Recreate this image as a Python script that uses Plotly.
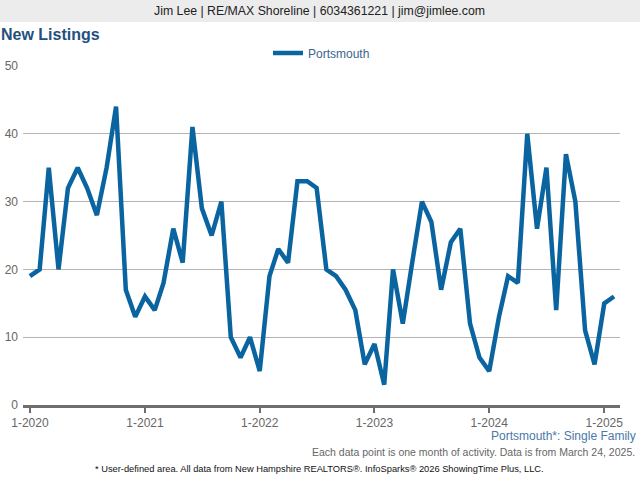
import plotly.graph_objects as go

months = [f"{y}-{m:02d}-01" for y in range(2020, 2026) for m in range(1, 13)][:62]
new_listings = [
    19, 20, 35, 20, 32, 35, 32, 28, 35, 44, 17, 13,   # 2020
    16, 14, 18, 26, 21, 41, 29, 25, 30, 10, 7, 10,    # 2021
    5, 19, 23, 21, 33, 33, 32, 20, 19, 17, 14, 6,     # 2022
    9, 3, 20, 12, 21, 30, 27, 17, 24, 26, 12, 7,      # 2023
    5, 13, 19, 18, 40, 26, 35, 14, 37, 30, 11, 6,     # 2024
    15, 16,                                           # 2025
]
tick_vals = ["2020-01-01", "2021-01-01", "2022-01-01", "2023-01-01", "2024-01-01", "2025-01-01"]
tick_text = ["1-2020", "1-2021", "1-2022", "1-2023", "1-2024", "1-2025"]
y_ticks = [0, 10, 20, 30, 40, 50]

W, H = 640, 480
L, R, T, B = 23, 20, 66, 75
pw, ph = W - L - R, H - T - B

def px(x):
    return (x - L) / pw

def py(y_from_top):
    return (H - y_from_top - B) / ph

FONT = "Liberation Sans, Arial, sans-serif"
LINE = "#0a64a0"

fig = go.Figure()
fig.add_trace(go.Scatter(
    x=months, y=new_listings, mode="lines", name="Portsmouth",
    line=dict(color=LINE, width=4.5), hoverinfo="x+y",
))

fig.update_layout(
    width=W, height=H,
    margin=dict(l=L, r=R, t=T, b=B, pad=0, autoexpand=False),
    paper_bgcolor="white", plot_bgcolor="white",
    font=dict(family=FONT, size=12, color="#666666"),
    showlegend=True,
    legend=dict(orientation="h", x=0.5, xanchor="center", y=py(53), yanchor="middle",
                font=dict(size=12, color="#3b6490"), bgcolor="rgba(0,0,0,0)",
                itemwidth=30),
    xaxis=dict(
        type="date", range=["2019-12-10", "2025-02-20"],
        tickvals=tick_vals, ticktext=tick_text,
        showgrid=False, zeroline=False, automargin=False,
        showline=True, linecolor="#6e6e6e", linewidth=3,
        ticks="outside", ticklen=5, tickwidth=2, tickcolor="#6e6e6e",
        tickfont=dict(size=12, color="#666666"),
        fixedrange=True,
    ),
    yaxis=dict(
        range=[0, 50], tickvals=y_ticks, automargin=False,
        showgrid=True, gridcolor="#b4b4b4", gridwidth=1,
        zeroline=False, showline=False, ticks="",
        tickfont=dict(size=12, color="#666666"),
        ticklabelstandoff=4,
        fixedrange=True,
    ),
    shapes=[dict(type="rect", xref="paper", yref="paper",
                 x0=px(0), x1=px(W), y0=py(22), y1=py(0),
                 fillcolor="#ececec", line=dict(width=0), layer="below")],
    annotations=[
        dict(text="Jim Lee | RE/MAX Shoreline | 6034361221 | jim@jimlee.com",
             xref="paper", yref="paper", x=px(319), y=py(11), xanchor="center", yanchor="middle",
             showarrow=False, font=dict(size=12.3, color="#222222")),
        dict(text="<b>New Listings</b>", xref="paper", yref="paper",
             x=px(-1), y=py(35), xanchor="left", yanchor="middle",
             showarrow=False, font=dict(size=16, color="#24507e")),
        dict(text="Portsmouth*: Single Family", xref="paper", yref="paper",
             x=px(638), y=py(436), xanchor="right", yanchor="middle",
             showarrow=False, font=dict(size=12, color="#4a78a8")),
        dict(text="Each data point is one month of activity. Data is from March 24, 2025.",
             xref="paper", yref="paper", x=px(637), y=py(452), xanchor="right", yanchor="middle",
             showarrow=False, font=dict(size=10.5, color="#666666")),
        dict(text="* User-defined area. All data from New Hampshire REALTORS®. InfoSparks® 2026 ShowingTime Plus, LLC.",
             xref="paper", yref="paper", x=px(319), y=py(469), xanchor="center", yanchor="middle",
             showarrow=False, font=dict(size=9.3, color="#111111")),
    ],
)

fig.write_html("out.html", config={"displayModeBar": False},
               post_script="document.body.style.margin='0';document.body.style.overflow='hidden';")
